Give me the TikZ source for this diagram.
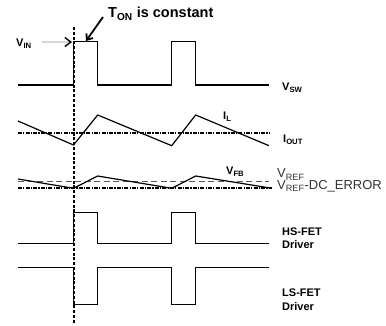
\documentclass[tikz,border=0pt]{standalone}
\usepackage{fontspec}
\setmainfont{Liberation Sans}
\usetikzlibrary{arrows.meta,calc}
\definecolor{leadgray}{HTML}{8A8A8A}
\definecolor{refgray}{HTML}{5A5A5A}
\definecolor{reftext}{HTML}{333333}
\tikzset{>=Latex,line width=1.2pt,
  every node/.style={inner sep=0pt},
  wave/.style={draw=black,line width=1.2pt,line join=miter},
  tickline/.style={draw=black,line width=1.4pt,dash pattern=on 3pt off 1.8pt},
  avgline/.style={draw=black,line width=1.6pt,dash pattern=on 4pt off 1.2pt on 1.2pt off 1.2pt},
  refline/.style={draw=refgray,line width=.8pt,dash pattern=on 6pt off 3.5pt},
  siglabel/.style={font=\fontsize{11}{12}\selectfont\bfseries,anchor=base west},
  reflabel/.style={text=reftext,font=\fontsize{13}{14}\selectfont,anchor=base west},
  inarrow/.style={draw=leadgray,line width=.9pt,-{Straight Barb[length=6pt,width=9pt,color=black,line width=1.4pt]}},
  tonarrow/.style={draw=black,line width=1.8pt,-{Straight Barb[length=5pt,width=8pt]}}}
\begin{document}
\begin{tikzpicture}[x=1pt,y=-1pt]
\useasboundingbox (0,0) rectangle (386,326);
% switching instant
\draw[tickline] (74,27)--(74,324);
% switch node voltage
\draw[wave] (18,85)--(73.5,85)--(73.5,41.7)--(97.7,41.7)--(97.7,85)--(171.7,85)
  --(171.7,41.7)--(195.7,41.7)--(195.7,85)--(269,85);
% inductor current
\draw[avgline] (18,133.3)--(269,133.3);
\draw[wave] (18,121)--(73.5,145)--(97.7,115)--(171.7,145.7)--(195.7,115)--(269,145.7);
% feedback voltage
\draw[refline] (18,181.7)--(269,181.7);
\draw[avgline] (18,188.3)--(272,188.3);
\draw[wave] (18,179)--(73.5,188.3)--(97.7,176)--(171.7,188.3)--(195.7,176)--(272,188.3);
% gate drivers
\draw[wave] (18,243.3)--(73.5,243.3)--(73.5,212.7)--(97.7,212.7)--(97.7,243.3)--(171.7,243.3)
  --(171.7,212.7)--(195.7,212.7)--(195.7,243.3)--(269,243.3);
\draw[wave] (18,267.7)--(73.5,267.7)--(73.5,304.3)--(97.7,304.3)--(97.7,267.7)--(171.7,267.7)
  --(171.7,304.3)--(195.7,304.3)--(195.7,267.7)--(269,267.7);
% labels
\node[anchor=base west,font=\fontsize{14.5}{16}\selectfont\bfseries] (ton) at (108,18) {T\textsubscript{ON} is constant};
\node[siglabel] (vin) at (16,47) {V\textsubscript{IN}};
\node[siglabel] (vsw) at (282,90.5) {V\textsubscript{SW}};
\node[siglabel] (il) at (223,120) {I\textsubscript{L}};
\node[siglabel] (iout) at (283,143) {I\textsubscript{OUT}};
\node[siglabel] (vfb) at (226,175) {V\textsubscript{FB}};
\node[reflabel] (vref) at (277,178) {V\textsubscript{REF}};
\node[reflabel] (vrefdc) at (277,189.5) {V\textsubscript{REF}-DC\_ERROR};
\node[siglabel] (hsfet) at (282,235.7) {HS-FET};
\node[siglabel] (hsdrv) at (282,248) {Driver};
\node[siglabel] (lsfet) at (282,296) {LS-FET};
\node[siglabel] (lsdrv) at (282,310.5) {Driver};
% arrows
\coordinate (vinhit) at (72,42);
\coordinate (tonhit) at (86,41);
\draw[inarrow] ([xshift=10pt,yshift=2pt]vin.east) -- (vinhit);
\draw[tonarrow] ($(ton.base west)+(-5,-1)$) -- (tonhit);
\end{tikzpicture}
\end{document}
